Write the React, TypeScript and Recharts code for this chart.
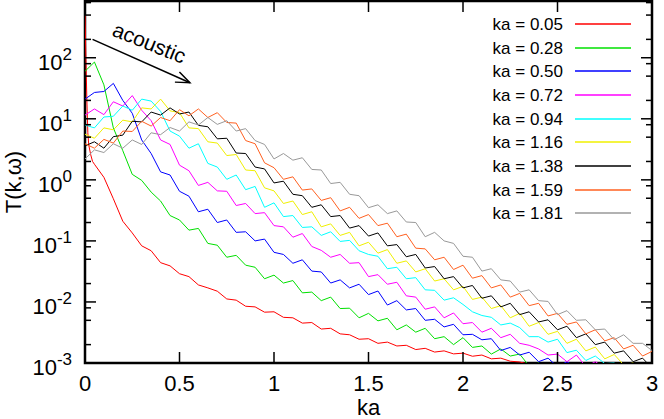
import React from "react";
import {
  LineChart,
  Line,
  XAxis,
  YAxis,
  ReferenceArea,
  ReferenceLine,
  Label,
} from "recharts";

// ka sampling grid shared by all curves
const kaGrid = [
  0, 0.05, 0.1, 0.15, 0.2, 0.25, 0.3, 0.35, 0.4, 0.45, 0.5, 0.55, 0.6, 0.65,
  0.7, 0.75, 0.8, 0.85, 0.9, 0.95, 1, 1.05, 1.1, 1.15, 1.2, 1.25, 1.3, 1.35,
  1.4, 1.45, 1.5, 1.55, 1.6, 1.65, 1.7, 1.75, 1.8, 1.85, 1.9, 1.95, 2, 2.05,
  2.1, 2.15, 2.2, 2.25, 2.3, 2.35, 2.4, 2.45, 2.5, 2.55, 2.6, 2.65, 2.7, 2.75,
  2.8, 2.85, 2.9, 2.95, 3,
];

// the ka = 0.05 curve falls very steeply near 0
const kaFine = [0.005, 0.01, 0.015, 0.02, 0.03, 0.04];
const t005Fine = [93, 20, 5.9, 3.7, 2.6, 2.0];

const t005 = [
  500, 1.8, 1.1, 0.49, 0.21, 0.135, 0.083, 0.069, 0.044, 0.039, 0.029, 0.026,
  0.019, 0.017, 0.015, 0.0112, 0.0107, 0.0085, 0.0083, 0.0068, 0.0069, 0.0056,
  0.0055, 0.0045, 0.0046, 0.0036, 0.0037, 0.003, 0.0029, 0.00245, 0.0025,
  0.0021, 0.0022, 0.0019, 0.00195, 0.00166, 0.00174, 0.00151, 0.00158, 0.00141,
  0.00145, 0.00129, 0.00135, 0.00117, 0.0012, 0.00107, 0.00104, 0.00095,
  0.00093, 0.00087,
];
const t028 = [
  60, 85, 36, 7.1, 3.0, 1.23, 0.98, 0.63, 0.45, 0.26, 0.22, 0.15, 0.16, 0.091,
  0.085, 0.054, 0.058, 0.04, 0.037, 0.024, 0.0275, 0.0204, 0.0224, 0.0141,
  0.0145, 0.0105, 0.012, 0.0078, 0.0079, 0.0055, 0.0065, 0.0049, 0.0054,
  0.0035, 0.0042, 0.0032, 0.0037, 0.0025, 0.0027, 0.002, 0.0026, 0.0018,
  0.0019, 0.0014, 0.0017, 0.0013, 0.0014, 0.00089, 0.001, 0.00078,
];
const t050 = [
  21, 27, 28, 38, 20, 12.3, 4.5, 2.7, 1.35, 1.2, 0.65, 0.54, 0.3, 0.33, 0.2,
  0.22, 0.138, 0.141, 0.1, 0.107, 0.065, 0.06, 0.043, 0.049, 0.032, 0.031,
  0.0204, 0.023, 0.017, 0.0195, 0.0132, 0.0151, 0.0089, 0.0105, 0.0074, 0.0078,
  0.005, 0.0052, 0.0039, 0.0043, 0.0029, 0.00295, 0.0024, 0.0025, 0.0016,
  0.0018, 0.00135, 0.0015, 0.00105, 0.0012, 0.00087, 0.00105, 0.00083, 0.00076,
];
const t072 = [
  11.5, 14.5, 11.7, 19, 16.2, 24, 13.8, 9.3, 4.5, 3.8, 1.74, 1.41, 0.81, 0.91,
  0.66, 0.65, 0.38, 0.41, 0.28, 0.29, 0.178, 0.17, 0.115, 0.132, 0.081, 0.07,
  0.054, 0.06, 0.043, 0.044, 0.026, 0.028, 0.0195, 0.021, 0.0126, 0.012,
  0.0076, 0.0083, 0.0055, 0.0066, 0.0044, 0.0046, 0.0032, 0.0037, 0.0026,
  0.00295, 0.0021, 0.00195, 0.0017, 0.00135, 0.0014, 0.00105, 0.00135, 0.00087,
  0.00105, 0.00083, 0.00076,
];
const t094 = [
  7.9, 7.1, 10.7, 11, 16.2, 13.8, 21, 19.5, 13.2, 6.3, 5.2, 3.3, 3.9, 1.86,
  1.62, 1.02, 1.2, 0.69, 0.78, 0.355, 0.42, 0.25, 0.26, 0.166, 0.17, 0.123,
  0.141, 0.098, 0.102, 0.069, 0.06, 0.056, 0.035, 0.037, 0.024, 0.025, 0.0158,
  0.0155, 0.0107, 0.0117, 0.0091, 0.0069, 0.006, 0.0056, 0.0042, 0.0045,
  0.0038, 0.0027, 0.0027, 0.0022, 0.00245, 0.00148, 0.00162, 0.0011, 0.0013,
  0.00098, 0.001, 0.00071,
];
const t116 = [
  5.6, 4.8, 7.1, 6.6, 9.5, 8.9, 15.1, 14.5, 21, 13.5, 12.6, 7.1, 6.9, 4.2, 4.0,
  2.5, 2.6, 1.45, 1.41, 0.74, 0.66, 0.41, 0.45, 0.27, 0.3, 0.17, 0.19, 0.123,
  0.138, 0.083, 0.095, 0.063, 0.072, 0.043, 0.047, 0.031, 0.035, 0.022, 0.024,
  0.0158, 0.018, 0.011, 0.012, 0.0078, 0.0087, 0.0055, 0.0065, 0.004, 0.0046,
  0.00295, 0.0033, 0.0021, 0.00245, 0.00158, 0.00182, 0.00117, 0.00138,
  0.00093, 0.001, 0.00076,
];
const t138 = [
  3.6, 4.2, 3.3, 5.1, 5.4, 9.1, 8.9, 12.9, 11.5, 15.1, 12, 12.9, 7.8, 7.4, 4.7,
  4.8, 2.75, 2.7, 1.62, 1.51, 0.89, 0.95, 0.58, 0.55, 0.355, 0.39, 0.25, 0.26,
  0.162, 0.178, 0.12, 0.135, 0.083, 0.087, 0.055, 0.06, 0.036, 0.038, 0.024,
  0.026, 0.017, 0.0186, 0.0115, 0.0126, 0.0083, 0.0095, 0.0062, 0.0069, 0.0047,
  0.0051, 0.0035, 0.004, 0.0026, 0.003, 0.002, 0.0022, 0.00145, 0.00158,
  0.00105, 0.0012, 0.00083,
];
const t159 = [
  3.9, 3.3, 4.6, 4.0, 6.3, 6.2, 9.1, 7.6, 10.5, 9.3, 14.1, 11.2, 14.5, 10.5,
  12.6, 8.7, 8.5, 4.4, 3.9, 1.9, 1.58, 1.02, 1.12, 0.68, 0.71, 0.46, 0.51, 0.31,
  0.355, 0.234, 0.27, 0.178, 0.195, 0.117, 0.129, 0.076, 0.074, 0.049, 0.054,
  0.034, 0.04, 0.0245, 0.027, 0.017, 0.019, 0.012, 0.0138, 0.0087, 0.0095,
  0.0059, 0.0065, 0.0043, 0.0047, 0.003, 0.0035, 0.0023, 0.0026, 0.0017,
  0.00195, 0.0013, 0.00155,
];
const t181 = [
  2.2, 3.1, 2.8, 3.9, 3.3, 4.5, 3.8, 5.9, 5.5, 7.2, 6.3, 8.9, 7.9, 10.5, 8.1,
  9.3, 6.3, 6.9, 4.4, 3.8, 2.2, 2.7, 2.1, 2.3, 1.48, 1.45, 0.87, 0.91, 0.58,
  0.55, 0.35, 0.39, 0.28, 0.31, 0.204, 0.2, 0.117, 0.138, 0.1, 0.091, 0.056,
  0.054, 0.032, 0.035, 0.023, 0.022, 0.0145, 0.0158, 0.0105, 0.0102, 0.0062,
  0.0072, 0.005, 0.0051, 0.0035, 0.0036, 0.0024, 0.0029, 0.0021, 0.0021,
  0.0016,
];

const xTicks = [0, 0.5, 1, 1.5, 2, 2.5, 3];
const yMajorTicks = [0.001, 0.01, 0.1, 1, 10, 100];
const yMajorExp = ["-3", "-2", "-1", "0", "1", "2"];
const yMinorTicks = [
  0.002, 0.005, 0.008, 0.02, 0.05, 0.08, 0.2, 0.5, 0.8, 2, 5, 8, 20, 50, 80,
  200, 500, 800,
];

// arrow annotation endpoints (ka, T)
const arrowFrom = { x: 0.04, y: 200 };
const arrowTo = { x: 0.555, y: 39 };

const series = [
  { name: "ka = 0.05", color: "#ff0000", values: t005 },
  { name: "ka = 0.28", color: "#00e000", values: t028 },
  { name: "ka = 0.50", color: "#0000ff", values: t050 },
  { name: "ka = 0.72", color: "#ff00ff", values: t072 },
  { name: "ka = 0.94", color: "#00ffff", values: t094 },
  { name: "ka = 1.16", color: "#f0f000", values: t116 },
  { name: "ka = 1.38", color: "#000000", values: t138 },
  { name: "ka = 1.59", color: "#ff6020", values: t159 },
  { name: "ka = 1.81", color: "#999999", values: t181 },
];

const W = 664;
const H = 419;
const PLOT_LEFT = 85;
const PLOT_RIGHT = 652;
const PLOT_TOP = 1;
const PLOT_BOTTOM = 363;
const FONT = '"Liberation Sans", Arial, Helvetica, sans-serif';

const toPoints = (values: number[], idx: number) => {
  const pts = values.map((t, i) => ({ ka: kaGrid[i], t }));
  if (idx === 0) {
    const fine = kaFine.map((ka, i) => ({ ka, t: t005Fine[i] }));
    return [pts[0], ...fine, ...pts.slice(1)];
  }
  return pts;
};

const YTick = (props: any) => {
  const { x, y, payload } = props;
  const idx = yMajorTicks.indexOf(payload.value);
  const len = idx >= 0 ? 11 : 6;
  return (
    <g>
      <line x1={x} x2={x + len} y1={y} y2={y} stroke="#000" strokeWidth={1.5} />
      <line x1={PLOT_RIGHT - len} x2={PLOT_RIGHT} y1={y} y2={y} stroke="#000" strokeWidth={1.5} />
      {idx >= 0 && (
        <text x={x - 13} y={y + 12} textAnchor="end" fontSize={22} fill="#000">
          10
          <tspan dy={-10} fontSize={17}>
            {yMajorExp[idx]}
          </tspan>
        </text>
      )}
    </g>
  );
};

const XTick = (props: any) => {
  const { x, y, payload } = props;
  return (
    <g>
      <line x1={x} x2={x} y1={PLOT_BOTTOM} y2={PLOT_BOTTOM - 11} stroke="#000" strokeWidth={1.5} />
      <line x1={x} x2={x} y1={PLOT_TOP} y2={PLOT_TOP + 11} stroke="#000" strokeWidth={1.5} />
      <text x={x} y={y + 28} textAnchor="middle" fontSize={22} fill="#000">
        {payload.value}
      </text>
    </g>
  );
};

const Arrow = (props: any) => {
  const { x1, y1, x2, y2 } = props;
  const dx = x2 - x1;
  const dy = y2 - y1;
  const len = Math.sqrt(dx * dx + dy * dy);
  const ux = dx / len;
  const uy = dy / len;
  const ang = Math.atan2(dy, dx);
  const head = 15;
  const spread = 0.38;
  const hx1 = x2 - head * Math.cos(ang - spread);
  const hy1 = y2 - head * Math.sin(ang - spread);
  const hx2 = x2 - head * Math.cos(ang + spread);
  const hy2 = y2 - head * Math.sin(ang + spread);
  const mx = (x1 + x2) / 2 + uy * 20;
  const my = (y1 + y2) / 2 - ux * 20;
  return (
    <g>
      <line x1={x1} y1={y1} x2={x2} y2={y2} stroke="#000" strokeWidth={1.5} />
      <polyline
        points={`${hx1},${hy1} ${x2},${y2} ${hx2},${hy2}`}
        fill="none"
        stroke="#000"
        strokeWidth={1.5}
      />
      <text
        x={mx}
        y={my}
        dy="0.35em"
        textAnchor="middle"
        fontSize={21}
        fill="#000"
        transform={`rotate(${(ang * 180) / Math.PI - 2}, ${mx}, ${my})`}
      >
        acoustic
      </text>
    </g>
  );
};

const App = () => {
  return (
    <div
      style={{
        position: "absolute",
        left: 0,
        top: 0,
        width: W,
        height: H,
        fontFamily: FONT,
        background: "#fff",
      }}
    >
      <LineChart width={W} height={H} margin={{ top: PLOT_TOP, right: W - PLOT_RIGHT, left: 0, bottom: 0 }}>
        <XAxis
          dataKey="ka"
          type="number"
          domain={[0, 3]}
          ticks={xTicks}
          interval={0}
          height={H - PLOT_BOTTOM}
          axisLine={false}
          tickLine={false}
          tickSize={0}
          tickMargin={0}
          tick={<XTick />}
          allowDataOverflow
        >
          <Label
            content={() => (
              <text x={(PLOT_LEFT + PLOT_RIGHT) / 2} y={415} textAnchor="middle" fontSize={22} fill="#000">
                ka
              </text>
            )}
          />
        </XAxis>
        <YAxis
          dataKey="t"
          type="number"
          scale="log"
          domain={[0.001, 850]}
          ticks={[...yMajorTicks, ...yMinorTicks]}
          interval={0}
          width={PLOT_LEFT}
          axisLine={false}
          tickLine={false}
          tickSize={0}
          tickMargin={0}
          tick={<YTick />}
          allowDataOverflow
        >
          <Label
            content={() => (
              <text
                x={21}
                y={(PLOT_TOP + PLOT_BOTTOM) / 2}
                textAnchor="middle"
                fontSize={22}
                fill="#000"
                transform={`rotate(-90, 21, ${(PLOT_TOP + PLOT_BOTTOM) / 2})`}
              >
                T(k,ω)
              </text>
            )}
          />
        </YAxis>
        {series.map((s, i) => (
          <Line
            key={s.name}
            data={toPoints(s.values, i)}
            dataKey="t"
            name={s.name}
            type="linear"
            stroke={s.color}
            strokeWidth={1}
            dot={false}
            activeDot={false}
            isAnimationActive={false}
          />
        ))}
        <ReferenceLine segment={[arrowFrom, arrowTo]} shape={<Arrow />} />
        <ReferenceArea x1={0} x2={3} y1={0.001} y2={850} fill="none" stroke="#000" strokeWidth={2.5} />
      </LineChart>
      <svg
        width={W}
        height={H}
        style={{ position: "absolute", left: 0, top: 0, pointerEvents: "none" }}
      >
        {series.map((s, i) => {
          const cy = Math.round(24 + 23.65 * i);
          return (
            <g key={s.name}>
              <text x={563} y={cy + 6} textAnchor="end" fontSize={17} fill="#000">
                {s.name}
              </text>
              <line x1={575} x2={631} y1={cy} y2={cy} stroke={s.color} strokeWidth={1.5} />
            </g>
          );
        })}
      </svg>
    </div>
  );
};

export default App;
